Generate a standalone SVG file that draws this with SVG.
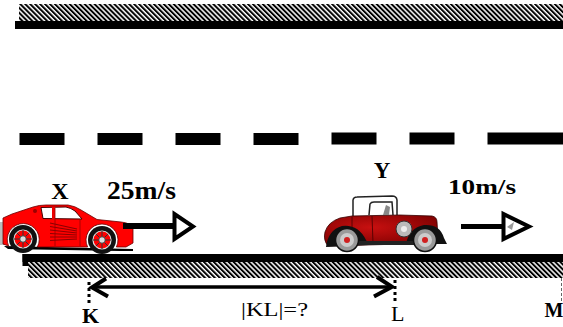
<svg xmlns="http://www.w3.org/2000/svg" width="563" height="327" viewBox="0 0 563 327">
<defs>
<pattern id="hatch" width="3.5" height="3.5" patternUnits="userSpaceOnUse" patternTransform="rotate(-45)">
<rect x="0" y="0" width="2" height="3.5" fill="#000"/>
</pattern>
<radialGradient id="redg" cx="0.4" cy="0.4" r="0.7">
<stop offset="0" stop-color="#c81010"/>
<stop offset="1" stop-color="#7a0000"/>
</radialGradient>
</defs>
<style>
text{font-family:"Liberation Serif","Tinos","DejaVu Serif",serif;fill:#000}
.b{font-weight:bold}
.dash{fill:#000}
.vshaft{fill:#000}
.vhead{fill:#fff;stroke:#000;stroke-width:4;stroke-linejoin:miter}
.dot{stroke:#000;stroke-width:3;stroke-dasharray:3 3;fill:none}
.tire{fill:#111}
</style>
<rect width="563" height="327" fill="#fff"/>

<g id="road-top">
<rect x="19" y="4" width="544" height="17" fill="url(#hatch)"/>
<rect x="15" y="21" width="548" height="8" fill="#000"/>
</g>

<g id="lane-dashes">
<rect class="dash" x="19.5" y="133" width="45" height="12"/>
<rect class="dash" x="97.5" y="133" width="45" height="12"/>
<rect class="dash" x="175.5" y="133" width="45" height="12"/>
<rect class="dash" x="253.5" y="133" width="45" height="12"/>
<rect class="dash" x="331.5" y="132.5" width="45" height="12"/>
<rect class="dash" x="409.5" y="132.5" width="45" height="12"/>
<rect class="dash" x="487.5" y="132.5" width="76" height="12"/>
</g>

<g id="road-bottom">
<rect x="22.5" y="254" width="540.5" height="8" fill="#000"/>
<rect x="22.5" y="254" width="5.5" height="12" fill="#000"/>
<rect x="28" y="262" width="535" height="16" fill="url(#hatch)"/>
</g>

<g id="car-X">
<rect x="0" y="222" width="5" height="23" fill="#bbb"/>
<path d="M4,246 L133,249 L133,251 L120,251 L8,249 Z" fill="#000"/>
<path d="M3,218 L12,214 L33,207 Q39,205 46,205 L68,205 Q75,206 81,210 L97,219.5 L121,222 Q131,223 133,228 L133,243 L126,247 L116.4,247 A16,16 0 1 0 87.6,247 L37.4,247 A16,16 0 1 0 8.6,246 L3,244 Z" fill="#f00" stroke="#600" stroke-width="0.8"/>
<path d="M41,207.5 L66,207 Q71,208 75,211 L82,219 L43,218.5 Z" fill="#fff" stroke="#400" stroke-width="1"/>
<rect x="52" y="207" width="3" height="12" fill="#e00"/>
<circle cx="35" cy="211" r="2" fill="#900"/>
<path d="M55,208 L55,246 M80,219 L80,246" stroke="#900" stroke-width="0.8"/>
<path d="M50,223 L77,229 M50,226.5 L77,231 M50,230 L77,233 M50,233.5 L77,235 M50,237 L77,237 M50,240.5 L77,239" stroke="#8b0000" stroke-width="1.2"/>
<g>
<circle class="tire" cx="23" cy="239" r="14"/>
<circle cx="23" cy="239" r="9" fill="#f00" stroke="#ddd" stroke-width="1.2"/>
<path d="M23,230 L23,248 M14,239 L32,239 M16.6,232.6 L29.4,245.4 M29.4,232.6 L16.6,245.4" stroke="#333" stroke-width="1"/>
<circle cx="23" cy="239" r="3.2" fill="#ddd" stroke="#333" stroke-width="0.8"/>
</g>
<g>
<circle class="tire" cx="102" cy="240" r="14"/>
<circle cx="102" cy="240" r="9" fill="#f00" stroke="#ddd" stroke-width="1.2"/>
<path d="M102,231 L102,249 M93,240 L111,240 M95.6,233.6 L108.4,246.4 M108.4,233.6 L95.6,246.4" stroke="#333" stroke-width="1"/>
<circle cx="102" cy="240" r="3.2" fill="#ddd" stroke="#333" stroke-width="0.8"/>
</g>
</g>

<g id="car-Y">
<path d="M353,221 L353,200 Q353.5,197 357,197 L392,196 Q396.5,196 397,200 L397,215" fill="#fff" stroke="#222" stroke-width="1.5"/>
<path d="M369,215 L370,204 Q371,202 374,202 L392,202 L393,215" fill="none" stroke="#222" stroke-width="1.5"/>
<path d="M328,246 Q323,240 325,232 Q328,222 340,218 L352,216 L400,215 L432,216 Q437,217 437,222 L438,238 L440,243 L328,246 Z" fill="url(#redg)" stroke="#300" stroke-width="0.8"/>
<path d="M352,217 L352,243 M372,216 L373,243" stroke="#400" stroke-width="0.8"/>
<path d="M326,247 Q328,230 342,226 Q358,224 366,240 L369,245 Z" fill="#111"/>
<path d="M406,244 Q409,228 424,225 Q440,224 444,238 L447,244 Z" fill="#111"/>
<rect x="352" y="241" width="66" height="4" fill="#222"/>
<circle cx="404" cy="229" r="8" fill="#bbb" stroke="#333" stroke-width="1"/>
<circle cx="404" cy="229" r="3" fill="#eee"/>
<circle cx="347" cy="240" r="11.5" fill="#9a9a9a" stroke="#111" stroke-width="1.5"/>
<circle cx="347" cy="240" r="7" fill="#ccc"/>
<circle cx="347" cy="240" r="3" fill="#d02020"/>
<circle cx="425" cy="240" r="11.5" fill="#9a9a9a" stroke="#111" stroke-width="1.5"/>
<circle cx="425" cy="240" r="7" fill="#ccc"/>
<circle cx="425" cy="240" r="3" fill="#d02020"/>
<path d="M383,215 L386,205 L390,207 L389,215 Z" fill="#888"/>
</g>

<g id="connectors">
<g id="velocity-X">
<rect class="vshaft" x="123" y="223" width="52" height="6"/>
<polygon class="vhead" points="174.5,214 174.5,239 193,226.5"/>
</g>
<g id="velocity-Y">
<rect class="vshaft" x="461" y="224" width="43" height="5"/>
<polygon class="vhead" points="503.5,214 503.5,239 529,226.5"/>
<path d="M507,227 L514,222 L512,230 Z" fill="#999"/>
</g>
<g id="distance-KL">
<line x1="93" y1="287" x2="391" y2="287" stroke="#000" stroke-width="3.5"/>
<polyline points="106,278.5 92,287.5 108,296.5" fill="none" stroke="#000" stroke-width="4"/>
<polyline points="377,277 392,286.8 374,296.5" fill="none" stroke="#000" stroke-width="4"/>
</g>
<line class="dot" x1="89" y1="282" x2="89" y2="304"/>
<line class="dot" x1="395" y1="280" x2="395" y2="301"/>
<line x1="561.5" y1="278" x2="561.5" y2="301" stroke="#666" stroke-width="1" stroke-dasharray="3 2"/>
</g>

<g id="labels">
<text class="b" x="60" y="199" font-size="24" text-anchor="middle">X</text>
<text class="b" x="107" y="199" font-size="25" textLength="69" lengthAdjust="spacingAndGlyphs">25m/s</text>
<text class="b" x="382" y="177.5" font-size="23" text-anchor="middle">Y</text>
<text class="b" x="448" y="193.5" font-size="22" textLength="68" lengthAdjust="spacingAndGlyphs">10m/s</text>
<text class="b" x="82" y="323" font-size="22">K</text>
<text x="241" y="315.5" font-size="19" textLength="67" lengthAdjust="spacingAndGlyphs">|KL|=?</text>
<text x="391" y="320.5" font-size="22">L</text>
<text class="b" x="544.5" y="316.5" font-size="20">M</text>
</g>
</svg>
